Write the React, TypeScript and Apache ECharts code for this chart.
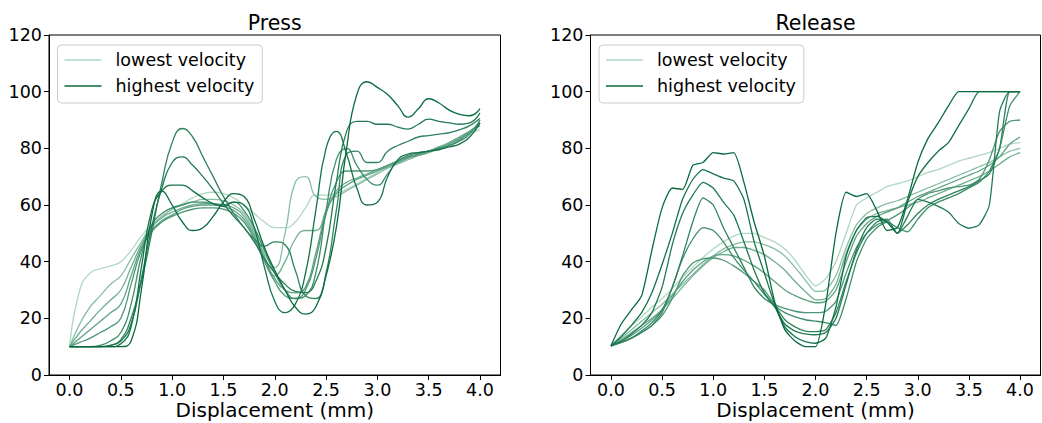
import React, { useEffect, useRef } from "react";
import * as echarts from "echarts";

// ---------- data ----------
const xValues = [
  0.0, 0.1, 0.2, 0.3, 0.4, 0.5, 0.6, 0.7, 0.8, 0.9,
  1.0, 1.1, 1.2, 1.3, 1.4, 1.5, 1.6, 1.7, 1.8, 1.9,
  2.0, 2.1, 2.2, 2.3, 2.4, 2.5, 2.6, 2.7, 2.8, 2.9,
  3.0, 3.1, 3.2, 3.3, 3.4, 3.5, 3.6, 3.7, 3.8, 3.9,
  4.0,
];

const xTicks = [0, 0.5, 1, 1.5, 2, 2.5, 3, 3.5, 4];
const yTicks = [0, 20, 40, 60, 80, 100, 120];
const panelTitles = ["Press", "Release"];
const xAxisTitle = "Displacement (mm)";
const legendNames = ["lowest velocity", "highest velocity"];

// Press: lowest velocity (p1) -> highest velocity (p10)
const press1 = [10, 30, 36, 37.5, 38.5, 40, 44, 49, 53, 56, 58.5, 60.5, 62.5, 64, 64.5, 64, 62.5, 60, 57, 54, 52, 52, 54, 59, 63.5, 63.5, 64, 65.5, 67.5, 69.5, 71.5, 73.5, 75, 76.5, 78, 79, 80.5, 82, 84, 85.5, 86.5];
const press2 = [10, 18, 24, 28, 32, 35, 41, 47, 52.5, 56, 58.5, 60, 61, 62, 62, 61.5, 60, 57, 51, 43, 38, 50, 68, 70, 63, 62, 63, 65, 67, 69, 71, 73, 74.5, 76, 77.5, 79, 80.5, 82, 84, 86, 88];
const press3 = [10, 15, 19, 23, 26.5, 30, 38, 46, 52, 55.5, 57.5, 59, 60, 60.5, 60.5, 60, 59, 56, 50, 42, 35, 40, 48, 51, 51, 58, 65, 68, 69.5, 71, 72.5, 74, 75.5, 77, 78, 79, 80.5, 82, 84, 86, 88];
const press4 = [10, 13, 16, 19, 22, 25, 35, 45, 51, 54.5, 56.5, 58.5, 59.5, 60, 60, 59.5, 58, 55, 49, 41, 34, 30, 29, 31, 43, 57, 64, 67, 69, 70.5, 72, 73.5, 75, 76.5, 77.5, 78.5, 80, 81.5, 83.5, 86, 89];
const press5 = [10, 11.5, 13, 15, 17, 20, 32, 44, 50.5, 54, 56, 57.5, 58.5, 59, 59, 58.5, 57, 54, 48, 40, 33, 28, 27, 30, 41, 57, 68, 72, 72, 72, 72.5, 74, 75.5, 77, 78, 79, 80, 81, 83, 85.5, 89];
const press6 = [10, 10, 10, 10.5, 12, 15, 25, 42, 53, 57, 59, 60, 61, 61, 60.5, 60, 61, 58, 52, 44, 36, 30, 27, 28, 36, 58, 76, 80, 74, 69, 67, 71, 75.5, 77.5, 78.5, 79, 80, 81, 82.5, 85, 90];
const press7 = [10, 10, 10, 10, 10.5, 12.5, 20, 33, 50, 68, 82, 87, 84, 77, 70, 63, 57, 52, 48, 45.5, 47, 46, 37, 28, 27, 36, 58, 78, 79, 75, 75, 79, 81, 82.5, 84, 84.5, 85, 85.5, 86.5, 88, 90.5];
const press8 = [10, 10, 10, 10, 10.5, 12, 18, 34, 52, 66, 75, 77, 74, 70, 65.5, 60.5, 56, 52, 47, 41, 36, 32, 29.5, 29, 33, 45, 68, 86, 89.5, 89.5, 88.5, 88.5, 87.5, 86.8, 88.5, 90.3, 89.5, 89, 88.5, 89, 92.5];
const press9 = [10, 10, 10, 10, 10, 11, 17, 38, 58, 65, 67, 67, 65, 62.5, 60.5, 59.5, 61, 60, 52, 38, 26, 22, 25, 36, 58, 80, 86, 78, 66, 60, 61, 70, 76, 78, 78.5, 79, 79.5, 80.5, 81.5, 84, 89];
const press10 = [10, 10, 10, 10, 10, 10, 12, 30, 56, 65, 60, 54, 51, 52, 56, 61, 64, 63, 55, 45, 37, 30, 24, 21.5, 24, 35, 52, 80, 99, 103.5, 101.5, 99, 95, 91, 94, 97.5, 96, 93.5, 92, 91.5, 94];

// Release: lowest velocity (r1) -> highest velocity (r10)
const release1 = [10.3, 14, 17.5, 20.5, 24, 27, 30.5, 34.5, 38, 41.5, 44.5, 47, 49, 50, 50, 48.5, 47, 44.5, 40.5, 35.5, 31.5, 34, 40, 50, 60, 62.5, 64.5, 66.5, 67.5, 68.5, 70, 71.5, 72.5, 74, 75.5, 76.5, 77.5, 78.5, 80, 81.5, 82];
const release2 = [10.3, 13, 16, 19, 22, 25, 28.5, 32, 35.5, 39, 42, 44.5, 46, 47, 47, 46, 44.5, 42, 38, 33.5, 29.5, 30, 35, 45, 53, 57, 59, 60.5, 61.5, 63, 64.5, 66, 67.5, 69, 70.5, 72, 73.5, 75, 77, 79, 80];
const release3 = [10.3, 12.5, 15, 17.5, 20, 23, 27, 31, 35, 38.5, 41.5, 43.5, 45, 45, 44, 42.5, 40, 37, 33, 29.5, 26.5, 27, 32, 43, 51, 55, 57, 58, 59, 60, 61, 62.5, 64, 65.5, 67, 68.5, 70, 72, 74.5, 77, 78.5];
const release4 = [10.3, 12, 14, 16.5, 19.5, 23, 28, 33, 37, 40, 42, 42.5, 42, 40.5, 38.5, 36, 33, 30, 28, 26.5, 25.5, 26, 30, 40, 49, 53.5, 56, 57.5, 59, 61, 63, 64.5, 66, 67.5, 69, 70.5, 72, 74, 77, 81.5, 84];
const release5 = [10.3, 11.5, 13, 15, 17.5, 21, 27, 35, 39.5, 41, 41.3, 40.5, 38.5, 36, 33, 30, 25, 23.5, 22.5, 22, 22, 22.5, 26, 36, 45, 50, 53, 54.5, 56.5, 59, 62, 64, 65, 66, 66.5, 67, 69, 76, 86, 89.5, 90];
const release6 = [10.3, 11.5, 13, 15, 17.5, 22, 31, 41, 48, 52, 51, 47, 41.5, 37, 33, 28.5, 24.5, 22, 20.5, 19.5, 19, 18.5, 17.5, 27, 40, 48, 52, 54, 52, 50.5, 55, 59, 61, 62.5, 64, 66, 68, 72, 80, 95, 100];
const release7 = [10.3, 11.5, 13, 15.5, 18.5, 23, 31, 42, 54, 62.5, 60, 52, 45, 38, 31, 27, 24.5, 19.5, 17, 15.5, 15.3, 16, 22, 33, 43, 50, 54, 55, 50, 53, 57, 60, 62, 63.5, 65, 66.5, 68.5, 71, 80, 100, 100];
const release8 = [10.3, 12, 14.5, 17.5, 22, 31, 46, 57, 63.5, 68, 66, 61, 56.5, 47, 37, 29, 24, 18, 15.5, 14.5, 14.2, 15, 20, 32, 44, 52, 55, 54, 50, 56, 62, 61, 59.5, 57.5, 53.5, 51.8, 53, 60, 93, 100, 100];
const release9 = [10.3, 13.5, 17.5, 22, 29, 39, 50, 62, 69, 72.5, 71, 69.5, 68.5, 62, 47, 36, 25, 17, 13.5, 11.8, 11.2, 13, 24, 42, 51, 55.5, 56, 54, 50, 61, 70, 75, 79, 82, 88, 94, 100, 100, 100, 100, 100];
const release10 = [10.3, 18, 23, 28, 44, 59, 66, 65.5, 74, 75, 78.5, 78, 78.5, 68, 54, 42, 26, 16, 12, 10, 10, 25, 50, 64.5, 63, 64, 58, 51, 52, 62, 75, 83.5, 89, 95, 100, 100, 100, 100, 100, 100, 100];

const pressCurves = [press1, press2, press3, press4, press5, press6, press7, press8, press9, press10];
const releaseCurves = [release1, release2, release3, release4, release5, release6, release7, release8, release9, release10];

// ---------- styling ----------
const FONT = "'DejaVu Sans', 'Noto Sans', sans-serif";
const LIGHT = [176, 215, 197];
const DARK = [8, 106, 63];

function curveColor(k: number, n: number) {
  const t = Math.pow(k / (n - 1), 0.65);
  const c = LIGHT.map((l, i) => Math.round(l + (DARK[i] - l) * t));
  return `rgb(${c[0]},${c[1]},${c[2]})`;
}

const GRIDS = [
  { left: 49, top: 35, width: 451.5, height: 340 },
  { left: 590.5, top: 35, width: 450, height: 340 },
];

export default function App() {
  const ref = useRef<HTMLDivElement>(null);

  useEffect(() => {
    document.body.style.margin = "0";
    if (!ref.current) return;
    const chart = echarts.init(ref.current, undefined, { renderer: "svg" });

    const panels = [pressCurves, releaseCurves];
    const series: any[] = [];
    panels.forEach((curves, p) => {
      curves.forEach((vals, k) => {
        const color = curveColor(k, curves.length);
        const name =
          k === 0 ? legendNames[0] : k === curves.length - 1 ? legendNames[1] : `${panelTitles[p]} ${k + 1}`;
        series.push({
          type: "line",
          name,
          xAxisIndex: p,
          yAxisIndex: p,
          data: xValues.map((x, i) => [x, vals[i]]),
          showSymbol: false,
          symbol: "none",
          smooth: p === 0 ? 0.5 : 0.2,
          silent: true,
          lineStyle: { color, width: 1.3 },
          itemStyle: { color },
          emphasis: { disabled: true },
        });
      });
    });

    const textBase = { color: "#000", fontFamily: FONT };

    const option: any = {
      animation: false,
      backgroundColor: "#fff",
      title: GRIDS.map((g, p) => ({
        text: panelTitles[p],
        left: g.left + g.width / 2,
        top: 12,
        textAlign: "center",
        padding: 0,
        textStyle: { ...textBase, fontSize: 20.5, fontWeight: "normal" },
      })),
      legend: GRIDS.map((g) => ({
        data: legendNames,
        orient: "vertical",
        left: g.left + 8.5,
        top: 45,
        icon: "rect",
        itemWidth: 37,
        itemHeight: 1.6,
        itemGap: 6,
        padding: [5, 8, 7, 7],
        backgroundColor: "rgba(255,255,255,0.85)",
        borderColor: "#cccccc",
        borderWidth: 1,
        borderRadius: 4,
        selectedMode: false,
        textStyle: { ...textBase, fontSize: 17.5, lineHeight: 20, padding: [0, 0, 0, 9] },
      })),
      grid: GRIDS.map((g) => ({
        ...g,
        show: true,
        borderColor: "#000",
        borderWidth: 1,
        backgroundColor: "transparent",
        containLabel: false,
        outerBoundsMode: "none",
      })),
      xAxis: GRIDS.map((g, p) => ({
        type: "value",
        gridIndex: p,
        min: -0.2,
        max: 4.2,
        axisLine: { show: true, onZero: false, lineStyle: { color: "#000", width: 1 } },
        axisTick: { show: true, length: 5, customValues: xTicks, lineStyle: { color: "#000" } },
        axisLabel: {
          show: true,
          customValues: xTicks,
          formatter: (v: number) => v.toFixed(1),
          fontSize: 17.5,
          margin: 6,
          ...textBase,
        },
        splitLine: { show: false },
        name: xAxisTitle,
        nameLocation: "middle",
        nameMoveOverlap: false,
        nameGap: 25,
        nameTextStyle: { ...textBase, fontSize: 20, lineHeight: 20, verticalAlign: "top" },
      })),
      yAxis: GRIDS.map((g, p) => ({
        type: "value",
        gridIndex: p,
        min: yTicks[0],
        max: yTicks[yTicks.length - 1],
        interval: yTicks[1] - yTicks[0],
        axisLine: { show: true, onZero: false, lineStyle: { color: "#000", width: 1 } },
        axisTick: { show: true, length: 5, lineStyle: { color: "#000" } },
        axisLabel: { show: true, fontSize: 17.5, margin: 7, ...textBase },
        splitLine: { show: false },
      })),
      series,
    };

    chart.setOption(option);
    return () => chart.dispose();
  }, []);

  return <div ref={ref} style={{ width: 1042, height: 423 }} />;
}
